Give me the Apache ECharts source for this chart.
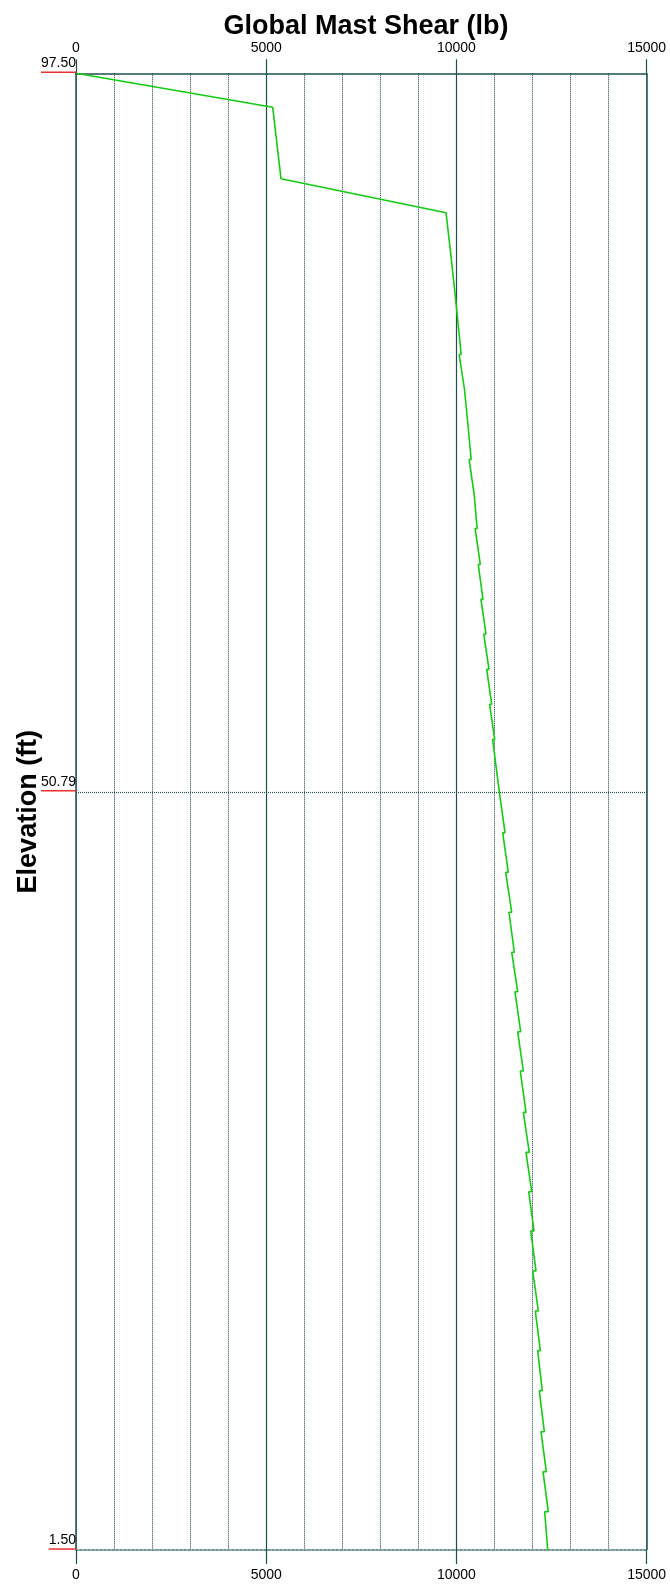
<!DOCTYPE html>
<html>
<head>
<meta charset="utf-8">
<script src="https://cdn.jsdelivr.net/npm/echarts@6/dist/echarts.min.js"></script>
<style>
  html, body { margin: 0; padding: 0; background: #ffffff; }
  #chart { width: 670px; height: 1585px; }
</style>
</head>
<body>
<div id="chart"></div>
<script>
// Shear profile along the mast: vertices from top (97.5 ft) to base (1.5 ft).
// Repeated elevations are the small steps between mast segments.
const elevation = [
  97.5, 95.29, 90.65, 88.44,
  86.01, 86.01, 83.74, 83.74, 81.59, 81.59, 79.22, 79.22,
  76.96, 76.96, 74.75, 74.75, 72.39, 72.39, 70.14, 70.14,
  67.91, 67.91, 65.57, 65.57, 63.30, 63.30, 61.05, 61.05,
  58.75, 58.75, 56.48, 56.48, 54.20, 54.20, 50.79,
  48.13, 48.13, 45.56, 45.56, 42.96, 42.96, 40.36, 40.36,
  37.79, 37.79, 35.19, 35.19, 32.64, 32.64, 29.95, 29.95,
  27.35, 27.35, 24.79, 24.79, 22.24, 22.24, 19.64, 19.64,
  17.04, 17.04, 14.46, 14.46, 11.85, 11.85, 9.19, 9.19,
  6.59, 6.59, 3.99, 3.99, 1.5
];
const shear = [
  0, 5171, 5389, 9727,
  9840, 9790, 9940, 9890, 10030, 9980, 10125, 10071,
  10212, 10161, 10300, 10248, 10388, 10335, 10466, 10414,
  10545, 10492, 10628, 10574, 10699, 10645, 10778, 10718,
  10857, 10797, 10928, 10873, 11007, 10952, 11128,
  11278, 11217, 11364, 11296, 11454, 11383, 11522, 11454,
  11612, 11540, 11690, 11612, 11759, 11680, 11830, 11759,
  11916, 11830, 11980, 11901, 12040, 11953, 12093, 12006,
  12153, 12074, 12206, 12137, 12258, 12179, 12311, 12224,
  12363, 12277, 12416, 12321, 12400
];
const shearTicks = [0, 5000, 10000, 15000];
const elevationTicks = [1.5, 50.79, 97.5];
const shearRange = [0, 15000];
const elevationRange = [1.5, 97.5];

const TEAL = '#1d4f50';
const GRID_DOT = '#123f40';
const RED = '#ee3030';
const GREEN = '#12cc12';
const FONT = "'Liberation Sans', Arial, sans-serif";

const profile = elevation.map((e, i) => [shear[i], e]);

// Labelled axis (top or bottom) with the major ticks only.
function labelledShearAxis(position) {
  const top = position === 'top';
  return {
    type: 'value',
    position: position,
    min: shearRange[0],
    max: shearRange[1],
    interval: 5000,
    axisLine: {
      show: true, onZero: false,
      lineStyle: top ? { color: TEAL, width: 1.5 } : { color: '#6f9494', width: 2, type: 'dotted' }
    },
    axisTick: {
      show: true, customValues: shearTicks, length: 14,
      lineStyle: { color: TEAL, width: 1.2 }
    },
    axisLabel: {
      show: true, customValues: shearTicks, margin: 18,
      fontSize: 14, color: '#000', fontFamily: FONT,
      formatter: v => String(v)
    },
    splitLine: { show: false }
  };
}

const chart = echarts.init(document.getElementById('chart'), null, { renderer: 'canvas' });
chart.setOption({
  animation: false,
  backgroundColor: '#ffffff',
  title: {
    text: 'Global Mast Shear (lb)',
    left: 361, top: 8, textAlign: 'center',
    textStyle: { fontSize: 27, fontWeight: 'bold', color: '#000', fontFamily: FONT }
  },
  grid: {
    left: 76, right: 23.4, top: 73.3, bottom: 35,
    containLabel: false,
    outerBoundsMode: 'none'
  },
  xAxis: [
    // Minor grid every 1000 lb (no ticks or labels of its own)
    {
      type: 'value',
      position: 'top',
      min: shearRange[0],
      max: shearRange[1],
      interval: 1000,
      axisLine: { show: false },
      axisTick: { show: false },
      axisLabel: { show: false },
      splitLine: { show: true, lineStyle: { color: GRID_DOT, type: [1, 1], width: 1 } }
    },
    labelledShearAxis('top'),
    labelledShearAxis('bottom')
  ],
  yAxis: {
    type: 'value',
    min: elevationRange[0],
    max: elevationRange[1],
    name: 'Elevation (ft)',
    nameLocation: 'middle',
    nameRotate: 90,
    nameGap: 34,
    nameMoveOverlap: false,
    nameTextStyle: { fontSize: 27, fontWeight: 'bold', color: '#000', fontFamily: FONT },
    axisLine: { show: true, lineStyle: { color: TEAL, width: 1.5 } },
    axisTick: { show: false },
    splitLine: { show: false },
    axisLabel: {
      show: true,
      customValues: elevationTicks,
      margin: 0,
      verticalAlign: 'bottom',
      formatter: v => '{t|' + v.toFixed(2) + '}\n{u| }',
      rich: {
        t: { fontSize: 14, lineHeight: 16, color: '#000', fontFamily: FONT, align: 'right' },
        u: { width: '100%', height: 1.5, lineHeight: 2, fontSize: 1, backgroundColor: RED }
      }
    }
  },
  series: [{
    type: 'line',
    xAxisIndex: 0,
    data: profile,
    symbol: 'none',
    showSymbol: false,
    z: 5,
    lineStyle: { color: GREEN, width: 1.6 },
    markLine: {
      silent: true,
      symbol: 'none',
      label: { show: false },
      data: [
        { xAxis: 5000, lineStyle: { color: TEAL, width: 1.2, type: 'solid' } },
        { xAxis: 10000, lineStyle: { color: TEAL, width: 1.2, type: 'solid' } },
        { xAxis: 15000, lineStyle: { color: TEAL, width: 1.5, type: 'solid' } },
        { yAxis: 50.79, lineStyle: { color: TEAL, width: 1.2, type: [1, 1] } }
      ]
    }
  }]
});
</script>
</body>
</html>
